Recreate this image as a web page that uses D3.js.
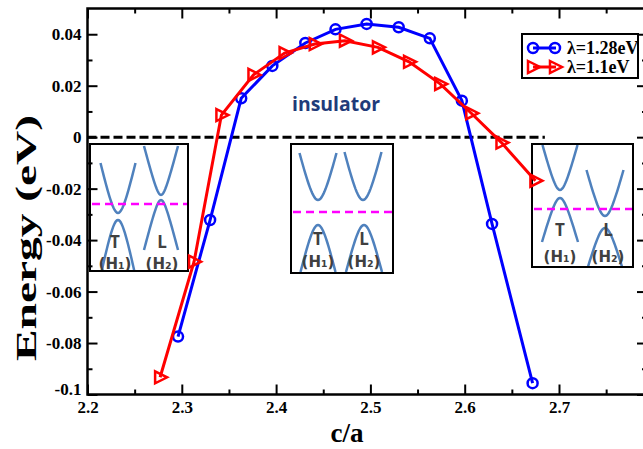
<!DOCTYPE html>
<html>
<head>
<meta charset="utf-8">
<script src="https://cdn.jsdelivr.net/npm/d3@7"></script>
<style>
    body { margin: 0; background: #fff; }
</style>
</head>
<body>
<div id="chart"></div>
<script>
// values
var caBlue = [2.296, 2.330, 2.363, 2.396, 2.431, 2.463, 2.496, 2.530, 2.563, 2.597, 2.629, 2.672];
var energyBlue = [-0.0775, -0.0322, 0.0151, 0.0277, 0.0366, 0.0419, 0.0440, 0.0427, 0.0384, 0.0142, -0.0337, -0.0956];
var caRed = [2.277, 2.313, 2.342, 2.376, 2.409, 2.441, 2.473, 2.508, 2.541, 2.574, 2.607, 2.639, 2.675];
var energyRed = [-0.0933, -0.0484, 0.0086, 0.0242, 0.0327, 0.0362, 0.0375, 0.0349, 0.0293, 0.0207, 0.0093, -0.0021, -0.0169];
var seriesNames = ["λ=1.28eV", "λ=1.1eV"];
var xMajor = [2.2, 2.3, 2.4, 2.5, 2.6, 2.7];
var xMinor = [2.25, 2.35, 2.45, 2.55, 2.65, 2.75];
var yMajor = [-0.1, -0.08, -0.06, -0.04, -0.02, 0, 0.02, 0.04];
var yMinor = [-0.09, -0.07, -0.05, -0.03, -0.01, 0.01, 0.03];
var zeroLineCA = [2.2, 2.685];

var W = 643, H = 449;
var plotLeft = 87.5, plotTop = 8.5, plotBottom = 394.5, plotRight = 647;

var x = d3.scaleLinear().domain([2.2, 2.8]).range([plotLeft, plotLeft + 6 * 94.3]);
var y = d3.scaleLinear().domain([-0.1, 0.05]).range([plotBottom, plotTop]);

var svg = d3.select("#chart").append("svg")
    .attr("width", W)
    .attr("height", H);

var tickFont = "'Liberation Serif', 'Times New Roman', serif";

// insets (band sketches), drawn under the curves
var insets = [
    {x: 90, y: 144, w: 98, h: 127, fermi: 60,
        bands: [
            {cx: 28, y0: 69, y1: 19, hw: 17.5, c: 0.45},
            {cx: 28, y0: 76, y1: 130, hw: 17, c: 0.45},
            {cx: 71, y0: 51, y1: 2, hw: 17, c: 0.3},
            {cx: 71, y0: 56, y1: 106, hw: 17, c: 0.3}
        ],
        labels: [{cx: 25, name: "T", sub: "(H\u2081)"}, {cx: 72, name: "L", sub: "(H\u2082)"}],
        ly: 98, sy: 120},
    {x: 291, y: 144, w: 102, h: 129, fermi: 68,
        bands: [
            {cx: 27, y0: 56, y1: 9, hw: 18.5, c: 0.5},
            {cx: 27, y0: 81, y1: 128, hw: 17.5, c: 0.5},
            {cx: 72, y0: 56, y1: 8, hw: 18.5, c: 0.5},
            {cx: 73, y0: 81, y1: 128, hw: 18, c: 0.5}
        ],
        labels: [{cx: 27, name: "T", sub: "(H\u2081)"}, {cx: 73, name: "L", sub: "(H\u2082)"}],
        ly: 95, sy: 118},
    {x: 532, y: 144, w: 101, h: 123, fermi: 65,
        bands: [
            {cx: 28, y0: 46, y1: 1, hw: 17.5, c: 0.4},
            {cx: 28, y0: 54, y1: 98, hw: 18, c: 0.4},
            {cx: 73, y0: 72, y1: 26, hw: 18.5, c: 0.45},
            {cx: 73, y0: 84, y1: 126, hw: 18, c: 0.45}
        ],
        labels: [{cx: 28, name: "T", sub: "(H\u2081)"}, {cx: 76, name: "L", sub: "(H\u2082)"}],
        ly: 86, sy: 113}
];

var bandLine = d3.line()
    .x(function (d) { return d[0]; })
    .y(function (d) { return d[1]; });

function bandPoints(b) {
    var pts = [];
    var norm = Math.sqrt(b.c * b.c + 1) - b.c;
    for (var u = -1; u <= 1.0001; u += 0.05) {
        var f = (Math.sqrt(b.c * b.c + u * u) - b.c) / norm;
        pts.push([b.cx + u * b.hw, b.y0 + (b.y1 - b.y0) * f]);
    }
    return pts;
}

insets.forEach(function (ins, i) {
    var g = svg.append("g").attr("transform", "translate(" + ins.x + "," + ins.y + ")");
    svg.append("clipPath").attr("id", "clip" + i)
        .append("rect").attr("width", ins.w).attr("height", ins.h);
    g.append("rect")
        .attr("width", ins.w).attr("height", ins.h)
        .style("fill", "#fff");
    var inner = g.append("g").attr("clip-path", "url(#clip" + i + ")");
    ins.bands.forEach(function (b) {
        inner.append("path")
            .attr("d", bandLine(bandPoints(b)))
            .style("fill", "none")
            .style("stroke", "#4f81bd")
            .style("stroke-width", 2.5);
    });
    inner.append("line")
        .attr("x1", 2).attr("x2", ins.w)
        .attr("y1", ins.fermi).attr("y2", ins.fermi)
        .style("stroke", "#ff00ff")
        .style("stroke-width", 2.5)
        .style("stroke-dasharray", "8,5");
    ins.labels.forEach(function (l) {
        inner.append("text")
            .attr("x", l.cx).attr("y", ins.ly)
            .attr("text-anchor", "middle")
            .attr("dy", "0.35em")
            .style("font-family", "'Open Sans', sans-serif")
            .style("font-weight", "bold")
            .style("font-size", "17px")
            .style("fill", "#404040")
            .text(l.name);
        inner.append("text")
            .attr("x", l.cx).attr("y", ins.sy)
            .attr("text-anchor", "middle")
            .attr("dy", "0.35em")
            .style("font-family", "'DejaVu Sans', sans-serif")
            .style("font-weight", "bold")
            .style("font-size", "15px")
            .style("fill", "#404040")
            .text(l.sub);
    });
    g.append("rect")
        .attr("width", ins.w).attr("height", ins.h)
        .style("fill", "none")
        .style("stroke", "#000")
        .style("stroke-width", 2);
});

// zero line
svg.append("line")
    .attr("x1", x(zeroLineCA[0])).attr("x2", x(zeroLineCA[1]))
    .attr("y1", y(0)).attr("y2", y(0))
    .style("stroke", "#000")
    .style("stroke-width", 3)
    .style("stroke-dasharray", "9,4");

svg.append("text")
    .attr("x", 336).attr("y", 111)
    .attr("text-anchor", "middle")
    .attr("textLength", 88)
    .attr("lengthAdjust", "spacingAndGlyphs")
    .style("font-family", "'Open Sans', sans-serif")
    .style("font-weight", "bold")
    .style("font-size", "20px")
    .style("fill", "#1f3b7a")
    .text("insulator");

// axes
function styleAxis(g) {
    g.select(".domain").remove();
    g.selectAll("line").style("stroke", "#000").style("stroke-width", 2);
    g.selectAll("text")
        .style("font-family", tickFont)
        .style("font-weight", "bold")
        .style("font-size", "17px")
        .style("fill", "#000");
}

svg.append("g").attr("transform", "translate(0," + plotBottom + ")")
    .call(d3.axisBottom(x).tickValues(xMajor).tickSize(-10).tickPadding(6).tickFormat(d3.format(".1f")))
    .call(styleAxis);
svg.append("g").attr("transform", "translate(0," + plotBottom + ")")
    .call(d3.axisBottom(x).tickValues(xMinor).tickSize(-5).tickFormat(""))
    .call(styleAxis);
svg.append("g").attr("transform", "translate(0," + plotTop + ")")
    .call(d3.axisBottom(x).tickValues(xMajor).tickSize(10).tickFormat(""))
    .call(styleAxis);
svg.append("g").attr("transform", "translate(0," + plotTop + ")")
    .call(d3.axisBottom(x).tickValues(xMinor).tickSize(5).tickFormat(""))
    .call(styleAxis);

var yAxisG = svg.append("g").attr("transform", "translate(" + plotLeft + ",0)")
    .call(d3.axisLeft(y).tickValues(yMajor).tickSize(-10).tickPadding(6).tickFormat(function (d) {
        return String(+d.toFixed(2));
    }))
    .call(styleAxis);
// grace puts the lowest label a bit higher
yAxisG.selectAll(".tick text")
    .filter(function (d) { return d === -0.1; })
    .attr("y", -5);
svg.append("g").attr("transform", "translate(" + plotLeft + ",0)")
    .call(d3.axisLeft(y).tickValues(yMinor).tickSize(-5).tickFormat(""))
    .call(styleAxis);
svg.append("g").attr("transform", "translate(" + plotRight + ",0)")
    .call(d3.axisLeft(y).tickValues(yMajor).tickSize(10).tickFormat(""))
    .call(styleAxis);
svg.append("g").attr("transform", "translate(" + plotRight + ",0)")
    .call(d3.axisLeft(y).tickValues(yMinor).tickSize(5).tickFormat(""))
    .call(styleAxis);

svg.append("rect")
    .attr("x", plotLeft).attr("y", plotTop)
    .attr("width", plotRight - plotLeft).attr("height", plotBottom - plotTop)
    .style("fill", "none")
    .style("stroke", "#000")
    .style("stroke-width", 2.5);

// axis titles
svg.append("text")
    .attr("x", 347).attr("y", 442)
    .attr("text-anchor", "middle")
    .style("font-family", tickFont)
    .style("font-weight", "bold")
    .style("font-size", "27px")
    .text("c/a");

svg.append("text")
    .attr("transform", "translate(36,238) rotate(-90)")
    .attr("text-anchor", "middle")
    .attr("textLength", 246)
    .attr("lengthAdjust", "spacingAndGlyphs")
    .style("font-family", tickFont)
    .style("font-weight", "bold")
    .style("font-size", "30px")
    .text("Energy (eV)");

// series
var blueData = caBlue.map(function (c, i) { return {ca: c, e: energyBlue[i]}; });
var redData = caRed.map(function (c, i) { return {ca: c, e: energyRed[i]}; });

var line = d3.line()
    .x(function (d) { return x(d.ca); })
    .y(function (d) { return y(d.e); });

var triangle = "M-5,-6L7,0L-5,6Z";

function drawBlue(g, data) {
    g.append("path").datum(data)
        .attr("d", line)
        .style("fill", "none")
        .style("stroke", "#0000ff")
        .style("stroke-width", 3);
    g.selectAll(".blue-pt").data(data).enter().append("circle")
        .attr("class", "blue-pt")
        .attr("cx", function (d) { return x(d.ca); })
        .attr("cy", function (d) { return y(d.e); })
        .attr("r", 5)
        .style("fill", "none")
        .style("stroke", "#0000ff")
        .style("stroke-width", 2.5);
}

function drawRed(g, data) {
    g.append("path").datum(data)
        .attr("d", line)
        .style("fill", "none")
        .style("stroke", "#ff0000")
        .style("stroke-width", 3);
    g.selectAll(".red-pt").data(data).enter().append("path")
        .attr("class", "red-pt")
        .attr("d", triangle)
        .attr("transform", function (d) { return "translate(" + x(d.ca) + "," + y(d.e) + ")"; })
        .style("fill", "none")
        .style("stroke", "#ff0000")
        .style("stroke-width", 2.5);
}

drawBlue(svg.append("g"), blueData);
drawRed(svg.append("g"), redData);

// legend
var legend = svg.append("g").attr("transform", "translate(522,34)");
legend.append("rect")
    .attr("width", 116).attr("height", 44)
    .style("fill", "#fff")
    .style("stroke", "#000")
    .style("stroke-width", 2);

var colors = ["#0000ff", "#ff0000"];
seriesNames.forEach(function (name, i) {
    var ly = 14 + i * 19;
    legend.append("line")
        .attr("x1", 11).attr("x2", 34)
        .attr("y1", ly).attr("y2", ly)
        .style("stroke", colors[i])
        .style("stroke-width", 3);
    [11, 33].forEach(function (mx) {
        if (i === 0) {
            legend.append("circle")
                .attr("cx", mx).attr("cy", ly).attr("r", 5)
                .style("fill", "none")
                .style("stroke", colors[i])
                .style("stroke-width", 2.5);
        } else {
            legend.append("path")
                .attr("d", triangle)
                .attr("transform", "translate(" + mx + "," + ly + ")")
                .style("fill", "none")
                .style("stroke", colors[i])
                .style("stroke-width", 2.5);
        }
    });
    legend.append("text")
        .attr("x", 45).attr("y", ly)
        .attr("dy", "0.35em")
        .style("font-family", tickFont)
        .style("font-size", "18px")
        .style("font-weight", "bold")
        .text(name);
});
</script>
</body>
</html>
